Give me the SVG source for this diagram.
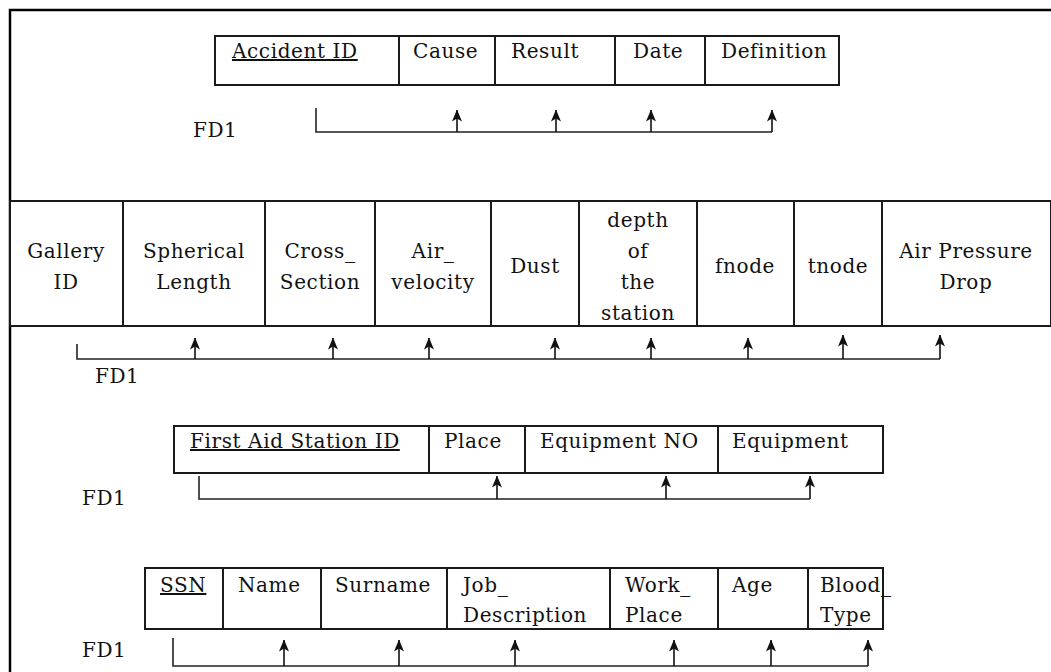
<svg xmlns="http://www.w3.org/2000/svg" width="1051" height="672" viewBox="0 0 1051 672">
<style>
.cell{fill:#fff;stroke:#1a1a1a;stroke-width:2}
.div{stroke:#1a1a1a;stroke-width:2}
.t{font-family:"DejaVu Serif","Liberation Serif",serif;font-size:20px;fill:#111;letter-spacing:0.6px}
.c{text-anchor:middle}
.u{text-decoration:underline}
.fd{fill:none;stroke:#222;stroke-width:1.6}
.ar{stroke:#111;stroke-width:1.6;marker-end:url(#ah)}
</style>
<defs>
<marker id="ah" markerUnits="userSpaceOnUse" markerWidth="12" markerHeight="11" viewBox="0 0 12 11" refX="11.5" refY="5.5" orient="auto">
<path d="M0,0.5 L12,5.5 L0,10.5 L3,5.5 z" fill="#111"/>
</marker>
</defs>
<rect width="1051" height="672" fill="#fff"/>
<path d="M10,672 V10 H1051" fill="none" stroke="#000" stroke-width="2.5"/>

<g id="accident">
<rect class="cell" x="215" y="36" width="624" height="49"/>
<line class="div" x1="399" y1="36" x2="399" y2="85"/>
<line class="div" x1="495" y1="36" x2="495" y2="85"/>
<line class="div" x1="615" y1="36" x2="615" y2="85"/>
<line class="div" x1="705" y1="36" x2="705" y2="85"/>
<text class="t u" x="232" y="58">Accident ID</text>
<text class="t" x="413" y="58">Cause</text>
<text class="t" x="511" y="58">Result</text>
<text class="t" x="633" y="58">Date</text>
<text class="t" x="721" y="58">Definition</text>
</g>
<text id="fd1-a" class="t" x="193" y="137">FD1</text>

<g id="gallery">
<rect class="cell" x="10" y="201" width="1041" height="125"/>
<line class="div" x1="123" y1="201" x2="123" y2="326"/>
<line class="div" x1="265" y1="201" x2="265" y2="326"/>
<line class="div" x1="375" y1="201" x2="375" y2="326"/>
<line class="div" x1="491" y1="201" x2="491" y2="326"/>
<line class="div" x1="579" y1="201" x2="579" y2="326"/>
<line class="div" x1="697" y1="201" x2="697" y2="326"/>
<line class="div" x1="794" y1="201" x2="794" y2="326"/>
<line class="div" x1="882" y1="201" x2="882" y2="326"/>
<text class="t c" x="66" y="258">Gallery</text>
<text class="t c" x="66" y="289">ID</text>
<text class="t c" x="194" y="258">Spherical</text>
<text class="t c" x="194" y="289">Length</text>
<text class="t c" x="320" y="258">Cross_</text>
<text class="t c" x="320" y="289">Section</text>
<text class="t c" x="433" y="258">Air_</text>
<text class="t c" x="433" y="289">velocity</text>
<text class="t c" x="535" y="273">Dust</text>
<text class="t c" x="638" y="227">depth</text>
<text class="t c" x="638" y="258">of</text>
<text class="t c" x="638" y="289">the</text>
<text class="t c" x="638" y="320">station</text>
<text class="t c" x="745" y="273">fnode</text>
<text class="t c" x="838" y="273">tnode</text>
<text class="t c" x="966" y="258">Air Pressure</text>
<text class="t c" x="966" y="289">Drop</text>
</g>
<text id="fd1-b" class="t" x="95" y="383">FD1</text>

<g id="firstaid">
<rect class="cell" x="174" y="426" width="709" height="47"/>
<line class="div" x1="429" y1="426" x2="429" y2="473"/>
<line class="div" x1="525" y1="426" x2="525" y2="473"/>
<line class="div" x1="718" y1="426" x2="718" y2="473"/>
<text class="t u" x="190" y="448">First Aid Station ID</text>
<text class="t" x="444" y="448">Place</text>
<text class="t" x="540" y="448">Equipment NO</text>
<text class="t" x="732" y="448">Equipment</text>
</g>
<text id="fd1-c" class="t" x="82" y="505">FD1</text>

<g id="person">
<rect class="cell" x="145" y="568" width="738" height="61"/>
<line class="div" x1="223" y1="568" x2="223" y2="629"/>
<line class="div" x1="321" y1="568" x2="321" y2="629"/>
<line class="div" x1="447" y1="568" x2="447" y2="629"/>
<line class="div" x1="610" y1="568" x2="610" y2="629"/>
<line class="div" x1="718" y1="568" x2="718" y2="629"/>
<line class="div" x1="808" y1="568" x2="808" y2="629"/>
<text class="t u" x="160" y="592">SSN</text>
<text class="t" x="238" y="592">Name</text>
<text class="t" x="335" y="592">Surname</text>
<text class="t" x="463" y="592">Job_</text>
<text class="t" x="463" y="622">Description</text>
<text class="t" x="625" y="592">Work_</text>
<text class="t" x="625" y="622">Place</text>
<text class="t" x="732" y="592">Age</text>
<text class="t" x="820" y="592">Blood_</text>
<text class="t" x="820" y="622">Type</text>
</g>
<text id="fd1-d" class="t" x="82" y="657">FD1</text>

<g id="connectors">
<path class="fd" d="M316,108 V132 H772"/>
<line class="ar" x1="457" y1="132" x2="457" y2="110"/>
<line class="ar" x1="556" y1="132" x2="556" y2="110"/>
<line class="ar" x1="651" y1="132" x2="651" y2="110"/>
<line class="ar" x1="772" y1="132" x2="772" y2="110"/>

<path class="fd" d="M77,344 V359 H940"/>
<line class="ar" x1="195" y1="359" x2="195" y2="338"/>
<line class="ar" x1="333" y1="359" x2="333" y2="338"/>
<line class="ar" x1="429" y1="359" x2="429" y2="338"/>
<line class="ar" x1="555" y1="359" x2="555" y2="338"/>
<line class="ar" x1="651" y1="359" x2="651" y2="338"/>
<line class="ar" x1="748" y1="359" x2="748" y2="338"/>
<line class="ar" x1="843" y1="359" x2="843" y2="335"/>
<line class="ar" x1="940" y1="359" x2="940" y2="335"/>

<path class="fd" d="M199,476 V499 H810"/>
<line class="ar" x1="497" y1="499" x2="497" y2="476"/>
<line class="ar" x1="666" y1="499" x2="666" y2="476"/>
<line class="ar" x1="810" y1="499" x2="810" y2="476"/>

<path class="fd" d="M173,638 V666 H868"/>
<line class="ar" x1="284" y1="666" x2="284" y2="640"/>
<line class="ar" x1="399" y1="666" x2="399" y2="640"/>
<line class="ar" x1="515" y1="666" x2="515" y2="640"/>
<line class="ar" x1="674" y1="666" x2="674" y2="640"/>
<line class="ar" x1="771" y1="666" x2="771" y2="640"/>
<line class="ar" x1="868" y1="666" x2="868" y2="640"/>
</g>
</svg>
